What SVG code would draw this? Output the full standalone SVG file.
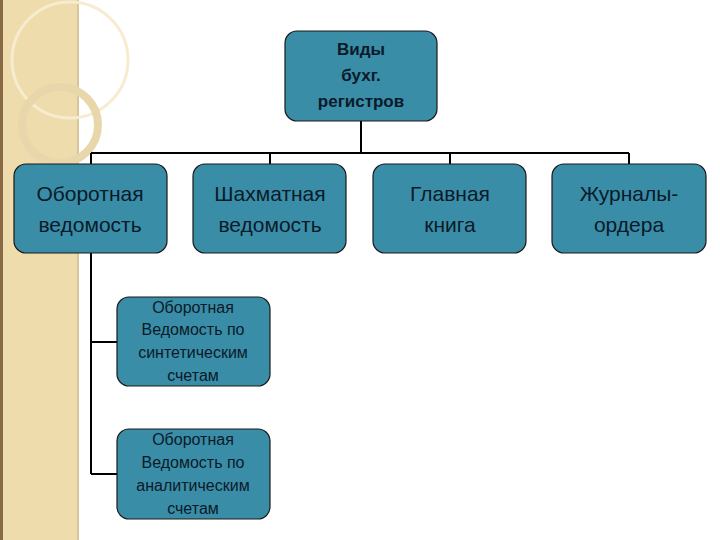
<svg xmlns="http://www.w3.org/2000/svg" width="720" height="540" viewBox="0 0 720 540">
<style>
.n{fill:#3a8da6;stroke:#1a1a1a;stroke-width:1.2}
.t{font-family:"Liberation Sans",Arial,sans-serif;fill:#0a1a2a;text-anchor:middle}
.c{stroke:#000;stroke-width:2;fill:none}
</style>
<rect width="720" height="540" fill="#fff"/>
<rect x="0" y="0" width="79" height="540" fill="#efdcad"/>
<rect x="0" y="0" width="3" height="540" fill="#8a6a45"/>
<rect x="77" y="0" width="2" height="540" fill="#d8c59a"/>
<circle cx="70" cy="60" r="58" fill="none" stroke="#f7ecd0" stroke-width="3"/>
<circle cx="60" cy="125" r="38" fill="none" stroke="#e8d7ab" stroke-width="8"/>
<g id="connectors">
<path class="c" d="M361 121V153M91 153H629M91 153V164M270 153V164M450 153V164M629 153V164M91 253V474M91 342H117M91 474H117"/>
</g>
<g id="root"><rect class="n" x="285" y="31" width="152" height="90" rx="12"/>
<text class="t" font-size="17" font-weight="bold"><tspan x="361" y="55">Виды</tspan><tspan x="361" y="81">бухг.</tspan><tspan x="361" y="107">регистров</tspan></text></g>
<g id="n1"><rect class="n" x="14" y="164" width="153" height="89" rx="12"/>
<text class="t" font-size="21"><tspan x="90" y="201">Оборотная</tspan><tspan x="90" y="232">ведомость</tspan></text></g>
<g id="n2"><rect class="n" x="193" y="164" width="153" height="89" rx="12"/>
<text class="t" font-size="21"><tspan x="270" y="201">Шахматная</tspan><tspan x="270" y="232">ведомость</tspan></text></g>
<g id="n3"><rect class="n" x="373" y="164" width="153" height="89" rx="12"/>
<text class="t" font-size="21"><tspan x="450" y="201">Главная</tspan><tspan x="450" y="232">книга</tspan></text></g>
<g id="n4"><rect class="n" x="552" y="164" width="154" height="89" rx="12"/>
<text class="t" font-size="21"><tspan x="629" y="201">Журналы-</tspan><tspan x="629" y="232">ордера</tspan></text></g>
<g id="n5"><rect class="n" x="117" y="297" width="153" height="89" rx="12"/>
<text class="t" font-size="16"><tspan x="193" y="313">Оборотная</tspan><tspan x="193" y="335">Ведомость по</tspan><tspan x="193" y="358">синтетическим</tspan><tspan x="193" y="381">счетам</tspan></text></g>
<g id="n6"><rect class="n" x="117" y="429" width="153" height="90" rx="12"/>
<text class="t" font-size="16"><tspan x="193" y="445">Оборотная</tspan><tspan x="193" y="468">Ведомость по</tspan><tspan x="193" y="491">аналитическим</tspan><tspan x="193" y="514">счетам</tspan></text></g>
</svg>
